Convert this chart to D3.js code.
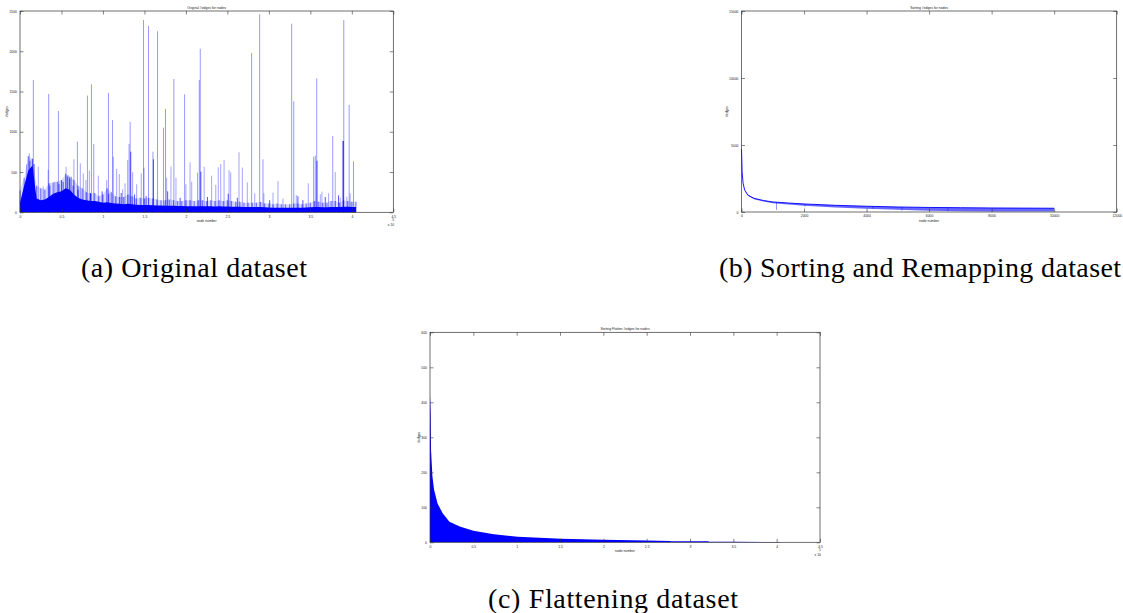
<!DOCTYPE html>
<html>
<head>
<meta charset="utf-8">
<script src="https://cdn.jsdelivr.net/npm/d3@7"></script>
<style>
  body { margin: 0; background: #fff; }
  .tiny { font-family: "Liberation Sans", Arial, sans-serif; font-size: 3.4px; fill: #222; }
  .cap { font-family: "Liberation Serif", "Times New Roman", serif; font-size: 28px; fill: #000; }
</style>
</head>
<body>
<svg id="fig" width="1123" height="613"></svg>
<script>
// Data (node number -> #edges)

// (a) original: dense band sampled every 5000 nodes, 0 .. 405000
var origStep = 5000;
var origBand = [120,330,520,580,170,150,160,190,230,250,
                260,300,280,220,180,160,150,140,140,130,
                120,125,115,110,105,100,105,100,95,92,
                90,90,88,85,85,82,80,80,78,78,
                76,76,75,75,76,75,74,73,74,72,
                72,70,70,68,67,66,66,65,66,62,
                60,58,56,55,55,55,56,56,58,60,
                62,65,65,64,64,66,66,66,68,68,
                66,66];
var origHaze = [270,430,700,660,330,300,280,360,370,380,
                400,480,440,400,330,300,250,230,240,200,
                220,300,250,200,190,190,220,200,170,180,
                170,180,170,160,150,150,160,150,140,140,
                150,150,140,150,150,140,150,140,150,140,
                150,140,130,130,120,120,120,120,130,110,
                110,100,110,100,100,100,110,110,100,110,
                120,140,130,120,120,140,140,120,150,140,
                130,130];
// tall (light) spikes: [node, #edges]
var origSpikes = [[16100,1644],[34600,1469],[46300,1258],[69200,877],[81300,1449],
                  [86100,1589],[88900,849],[106600,1482],[111500,1147],[132800,1122],
                  [131500,850],[148900,2388],[154900,2314],[160300,753],[165800,2248],
                  [173000,1051],[175400,1283],[185500,1656],[198400,1465],[216100,1644],
                  [217300,2032],[279200,1978],[288900,2459],[292900,658],[327500,2343],
                  [330000,1378],[357700,1664],[390300,2388],[396800,1333],[388700,886],
                  [377000,948],[354000,691],[356000,704],[402000,633]];
// medium spikes
var origMidSpikes = [[11200,733],[8000,596],[14900,670],[22000,567],[28000,319],
                     [34000,525],[42000,380],[50000,400],[55500,567],[58000,463],
                     [62000,443],[65000,658],[72700,608],[76300,484],[79500,401],
                     [83600,517],[94400,455],[104500,401],[112500,691],[116500,538],
                     [119700,476],[123700,286],[126600,360],[129800,650],[135800,497],
                     [140600,348],[146200,484],[149500,555],[176800,430],[182000,567],
                     [188000,430],[200000,348],[205000,621],[207000,380],[214000,493],
                     [222000,567],[231000,455],[236000,340],[239000,559],[242000,600],
                     [246000,650],[252000,525],[254000,497],[264000,745],[268000,555],
                     [274000,372],[283000,236],[294000,236],[305000,244],[311000,389],
                     [317000,170],[333000,215],[347500,360],[362000,224],[364000,257],
                     [372000,236],[380000,501],[386000,182],[394000,195],[398000,236]];
// darker secondary spikes
var origDarkSpikes = [[57000,445],[133500,753],[160800,658],[218000,505],[358000,640],
                      [390000,886],[12000,640],[17000,600],[36000,330],[47000,350],
                      [52000,380],[60000,420],[64000,330],[70000,280],[85000,240],
                      [99000,260],[107000,230],[122000,240],[138000,220],[152000,200],
                      [178000,260],[193000,180],[226000,190],[251000,230],[262000,180],
                      [301000,150],[335000,200],[341000,150],[368000,190],[384000,210]];

// (b) sorted and remapped
var sortNodes = [0,20,50,100,200,400,700,1000,1500,2000,3000,4000,5000,6000,7000,8000,9000,10000];
var sortTop   = [4700,3000,2150,1650,1270,1020,860,750,670,600,500,430,375,340,320,300,290,280];
var sortLow   = [4700,2950,2100,1600,1220,960,790,660,560,470,330,250,170,100,60,40,30,30];
// light downward dips: [node, from, to]
var sortDips  = [[1120,740,150],[2030,600,400],[4200,420,250],[5130,370,100],[6600,330,60]];

// (c) flattened
var flatNodes = [0,800,1200,2000,2800,4700,8700,14600,22400,34300,50000,73600,101000,
                 151600,200000,250000,277000,278000,300000,321000,322000,350000,400000,404000];
var flatVals  = [421,369,264,226,188,150,111,83,59,45,33,23,16,
                 10.5,7.6,4.8,3.8,3.2,2.9,2.7,1.5,1.3,1.0,1.0];

// tick values
var ticksE5 = [0,50000,100000,150000,200000,250000,300000,350000,400000,450000];
var ticksA_y = [0,500,1000,1500,2000,2500];
var ticksB_x = [0,2000,4000,6000,8000,10000,12000];
var ticksB_y = [0,5000,10000,15000];
var ticksC_y = [0,100,200,300,400,500,600];

var svg = d3.select("#fig");
svg.append("rect").attr("width", 1123).attr("height", 613).attr("fill", "#fff");

var blue = "#0000ff";
var fmtE5 = function(d) { return d3.format("~g")(d / 1e5); };

function makeScales(p) {
  p.x = d3.scaleLinear().domain(p.xDomain).range([p.left, p.right]);
  p.y = d3.scaleLinear().domain(p.yDomain).range([p.bottom, p.top]);
  p.g = svg.append("g");
  return p;
}

// box, inward ticks on all sides, labels (MATLAB style)
function drawFrame(p) {
  var g = p.g;
  var tl = 3.5;
  var bottom = d3.axisBottom(p.x).tickValues(p.xTicks).tickSize(-tl).tickPadding(3)
      .tickFormat(p.xFormat || d3.format("d"));
  var top = d3.axisTop(p.x).tickValues(p.xTicks).tickSize(-tl).tickFormat("");
  var left = d3.axisLeft(p.y).tickValues(p.yTicks).tickSize(-tl).tickPadding(3)
      .tickFormat(d3.format("d"));
  var right = d3.axisRight(p.y).tickValues(p.yTicks).tickSize(-tl).tickFormat("");

  [[bottom, "translate(0," + p.bottom + ")"], [top, "translate(0," + p.top + ")"],
   [left, "translate(" + p.left + ",0)"], [right, "translate(" + p.right + ",0)"]]
    .forEach(function(a) {
      var ax = g.append("g").attr("transform", a[1]).call(a[0]);
      ax.select(".domain").remove();
      ax.selectAll("line").attr("stroke", "#333").attr("stroke-width", 0.6);
      ax.selectAll("text").attr("class", "tiny").attr("font-size", null)
        .attr("font-family", null).attr("fill", null);
    });

  g.append("rect")
      .attr("x", p.left).attr("y", p.top)
      .attr("width", p.right - p.left).attr("height", p.bottom - p.top)
      .attr("fill", "none").attr("stroke", "#333").attr("stroke-width", 0.7);

  var cx = (p.left + p.right) / 2;
  g.append("text").attr("class", "tiny").attr("x", cx).attr("y", p.top - 2.5)
      .attr("text-anchor", "middle").text(p.title);
  g.append("text").attr("class", "tiny").attr("x", cx).attr("y", p.bottom + 10)
      .attr("text-anchor", "middle").text("node number");
  g.append("text").attr("class", "tiny")
      .attr("transform", "translate(" + p.ylabelX + "," + ((p.top + p.bottom) / 2) + ") rotate(-90)")
      .attr("text-anchor", "middle").text("#edges");
  if (p.expo) {
    g.append("text").attr("class", "tiny").attr("x", p.right - 1).attr("y", p.bottom + 9)
        .text("5");
    g.append("text").attr("class", "tiny").attr("x", p.right - 5.5).attr("y", p.bottom + 13.5)
        .text("x 10");
  }
}

function spikes(p, list, opacity, width) {
  p.g.append("g").selectAll("line").data(list).enter().append("line")
      .attr("x1", function(d) { return p.x(d[0]); })
      .attr("x2", function(d) { return p.x(d[0]); })
      .attr("y1", p.y(0))
      .attr("y2", function(d) { return p.y(d[1]); })
      .attr("stroke", blue).attr("stroke-opacity", opacity).attr("stroke-width", width);
}

// ---- (a) Original dataset ----
var pa = makeScales({
  left: 20, right: 393.3, top: 11, bottom: 212.3,
  xDomain: [0, 450000], yDomain: [0, 2500],
  xTicks: ticksE5, yTicks: ticksA_y, xFormat: fmtE5,
  title: "Original #edges for nodes", ylabelX: 7.5, expo: true
});
var aArea = d3.area()
    .x(function(d, i) { return pa.x(i * origStep); })
    .y0(pa.y(0)).y1(function(d) { return pa.y(d); });
pa.g.append("path").datum(origHaze).attr("d", aArea)
    .attr("fill", blue).attr("fill-opacity", 0.15);
// comb of light lines for the noisy top of the band
pa.g.append("g").selectAll("line").data(origHaze).enter().append("line")
    .attr("x1", function(d, i) { return pa.x(i * origStep); })
    .attr("x2", function(d, i) { return pa.x(i * origStep); })
    .attr("y1", pa.y(0))
    .attr("y2", function(d) { return pa.y(d); })
    .attr("stroke", blue).attr("stroke-opacity", 0.45).attr("stroke-width", 1.2);
spikes(pa, origSpikes, 0.45, 0.9);
spikes(pa, origMidSpikes, 0.4, 0.9);
pa.g.append("path").datum(origBand).attr("d", aArea)
    .attr("fill", blue);
spikes(pa, origDarkSpikes, 0.85, 0.8);
drawFrame(pa);

// ---- (b) Sorting and Remapping dataset ----
var pb = makeScales({
  left: 741.5, right: 1116.7, top: 11, bottom: 212,
  xDomain: [0, 12000], yDomain: [0, 15000],
  xTicks: ticksB_x, yTicks: ticksB_y,
  title: "Sorting #edges for nodes", ylabelX: 728, expo: false
});
var bArea = d3.area()
    .x(function(d, i) { return pb.x(sortNodes[i]); })
    .y0(function(d, i) { return pb.y(sortLow[i]); })
    .y1(function(d) { return pb.y(d); });
pb.g.append("path").datum(sortTop).attr("d", bArea)
    .attr("fill", blue).attr("fill-opacity", 0.6);
pb.g.append("path").datum(sortTop)
    .attr("d", d3.line().x(function(d, i) { return pb.x(sortNodes[i]); })
                        .y(function(d) { return pb.y(d); }))
    .attr("fill", "none").attr("stroke", blue).attr("stroke-width", 0.9);
pb.g.append("g").selectAll("line").data(sortDips).enter().append("line")
    .attr("x1", function(d) { return pb.x(d[0]); })
    .attr("x2", function(d) { return pb.x(d[0]); })
    .attr("y1", function(d) { return pb.y(d[1]); })
    .attr("y2", function(d) { return pb.y(d[2]); })
    .attr("stroke", blue).attr("stroke-opacity", 0.45).attr("stroke-width", 0.9);
drawFrame(pb);

// ---- (c) Flattening dataset ----
var pc = makeScales({
  left: 430, right: 820, top: 332.3, bottom: 542.3,
  xDomain: [0, 450000], yDomain: [0, 600],
  xTicks: ticksE5, yTicks: ticksC_y, xFormat: fmtE5,
  title: "Sorting Flatten #edges for nodes", ylabelX: 419.5, expo: true
});
pc.g.append("path").datum(flatVals)
    .attr("d", d3.area()
        .x(function(d, i) { return pc.x(flatNodes[i]); })
        .y0(pc.y(0)).y1(function(d) { return pc.y(d); }))
    .attr("fill", blue);
drawFrame(pc);

// ---- captions ----
var captions = [
  { text: "(a) Original dataset", x: 194, y: 277, w: 226 },
  { text: "(b) Sorting and Remapping dataset", x: 920, y: 277, w: 402 },
  { text: "(c) Flattening dataset", x: 613, y: 608, w: 250 }
];
svg.selectAll("text.cap").data(captions).enter().append("text")
    .attr("class", "cap")
    .attr("x", function(d) { return d.x; })
    .attr("y", function(d) { return d.y; })
    .attr("text-anchor", "middle")
    .attr("textLength", function(d) { return d.w; })
    .attr("lengthAdjust", "spacing")
    .text(function(d) { return d.text; });
</script>
</body>
</html>
